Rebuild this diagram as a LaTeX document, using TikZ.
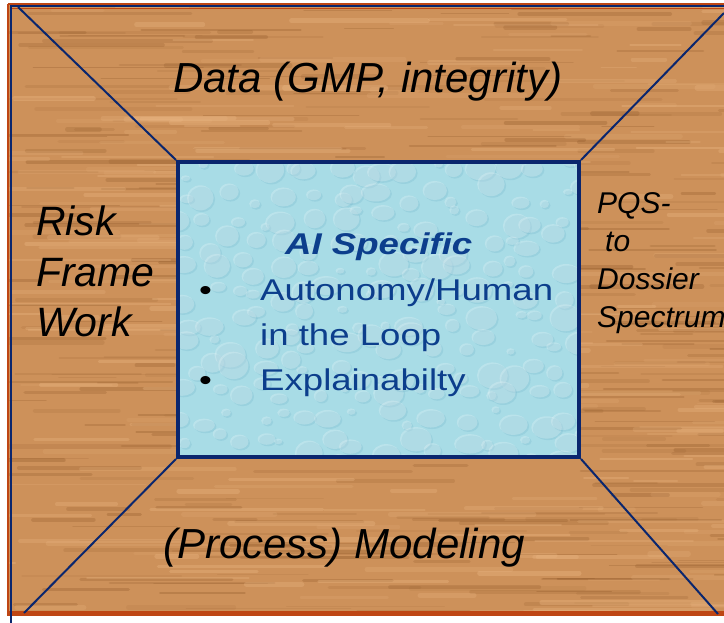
\documentclass[tikz,border=0pt]{standalone}
\usepackage{fontspec}
\setmainfont{Liberation Sans}
\newfontfamily\widefont[FakeStretch=1.22]{Liberation Sans}
\definecolor{woodbase}{RGB}{205,145,90}
\definecolor{wooddark}{RGB}{140,85,38}
\definecolor{woodlight}{RGB}{236,184,132}
\definecolor{frameorange}{RGB}{190,70,20}
\definecolor{navy}{RGB}{10,38,110}
\definecolor{waterbase}{RGB}{168,220,230}
\definecolor{waterdark}{RGB}{100,170,195}
\definecolor{aitext}{RGB}{12,62,140}
\tikzset{
  diag/.style={navy, line width=2pt},
  aibox/.style={draw=navy, line width=4pt, minimum width=401pt, minimum height=295pt, inner sep=0pt},
  lbl/.style={inner sep=0pt, align=left, text=black},
  bigital/.style={font=\fontsize{42}{51}\selectfont\itshape},
}
\begin{document}
\begin{tikzpicture}[x=1pt,y=-1pt]
\useasboundingbox (0,0) rectangle (724,623);
\fill[white] (0,0) rectangle (724,623);
% wood panel
\fill[woodbase] (9,4) rectangle (730,614);
\begin{scope}
\clip (9,4) rectangle (724,614);
\pgfmathsetseed{12}
\foreach \i in {1,...,380} {
  \pgfmathsetmacro\xa{-20+rnd*760}
  \pgfmathsetmacro\ya{4+rnd*610}
  \pgfmathsetmacro\len{30+rnd*150}
  \pgfmathsetmacro\lw{1+rnd*3.5}
  \pgfmathsetmacro\op{0.08+rnd*0.22}
  \draw[wooddark, line width=\lw pt, opacity=\op, line cap=round] (\xa,\ya) -- ++(\len,0);
}
\foreach \i in {1,...,240} {
  \pgfmathsetmacro\xa{-20+rnd*760}
  \pgfmathsetmacro\ya{4+rnd*610}
  \pgfmathsetmacro\len{30+rnd*150}
  \pgfmathsetmacro\lw{1.5+rnd*4}
  \pgfmathsetmacro\op{0.12+rnd*0.25}
  \draw[woodlight, line width=\lw pt, opacity=\op, line cap=round] (\xa,\ya) -- ++(\len,0);
}
\end{scope}
% frame lines
\draw[frameorange, line width=1.5pt] (8,4) -- (724,4);
\draw[navy, line width=2pt] (10,6.5) -- (724,6.5);
\draw[frameorange, line width=1pt] (10,8.7) -- (724,8.7);
\draw[frameorange, line width=1.5pt] (8,4) -- (8,616);
\draw[frameorange, line width=5pt] (8,613.5) -- (724,613.5);
\draw[navy, line width=2pt] (10.7,6) -- (10.7,623);
% AI box
\fill[waterbase] (178,162) rectangle (579,457);
\begin{scope}
\clip (178,162) rectangle (579,457);
\pgfmathsetseed{5}
\foreach \gx in {0,...,16} {
  \foreach \gy in {0,...,12} {
    \pgfmathsetmacro\xa{175+\gx*25+rnd*22}
    \pgfmathsetmacro\ya{158+\gy*25+rnd*22}
    \pgfmathsetmacro\rx{4+rnd*12}
    \pgfmathsetmacro\ry{\rx*(0.6+rnd*0.35)}
    \fill[waterdark, opacity=0.22] (\xa+1.5,\ya+1.5) ellipse ({\rx pt} and {\ry pt});
    \fill[white, opacity=0.22] (\xa,\ya) ellipse ({\rx pt} and {\ry pt});
  }
}
\end{scope}
\node[aibox] (ai) at (378.5,309.5) {};
% diagonals
\coordinate (tl) at (18,7);
\coordinate (tr) at (724,13);
\coordinate (bl) at (24,613);
\coordinate (br) at (718,614);
\draw[diag] (tl) -- (ai.north west);
\draw[diag] (ai.north east) -- (tr);
\draw[diag] (bl) -- (ai.south west);
\draw[diag] (ai.south east) -- (br);
% labels (multi-line nodes: base = last line)
\node[lbl, bigital, anchor=base west] (data) at (173,93) {Data (GMP, integrity)};
\node[lbl, font=\fontsize{41}{51}\selectfont\itshape, anchor=base west] (risk) at (36,337) {Risk\\Frame\\Work};
\node[lbl, bigital, anchor=base west] (model) at (163,558) {(Process) Modeling};
\node[lbl, font=\fontsize{30}{38}\selectfont\itshape, anchor=base west] (pqs) at (597,327) {PQS-\\\hspace*{8pt}to\\Dossier\\Spectrum};
\node[lbl, text=aitext, font=\fontsize{30}{36}\selectfont\widefont\bfseries\itshape, anchor=base west] (aititle) at (285,255) {AI Specific};
\node[lbl, text=aitext, font=\fontsize{30}{45}\selectfont\widefont, anchor=base west] (aiitems) at (199,390)
  {\makebox[61pt][l]{\textcolor{black}{•}}Autonomy/Human\\\hspace*{61pt}in the Loop\\\makebox[61pt][l]{\textcolor{black}{•}}Explainabilty};
\end{tikzpicture}
\end{document}
